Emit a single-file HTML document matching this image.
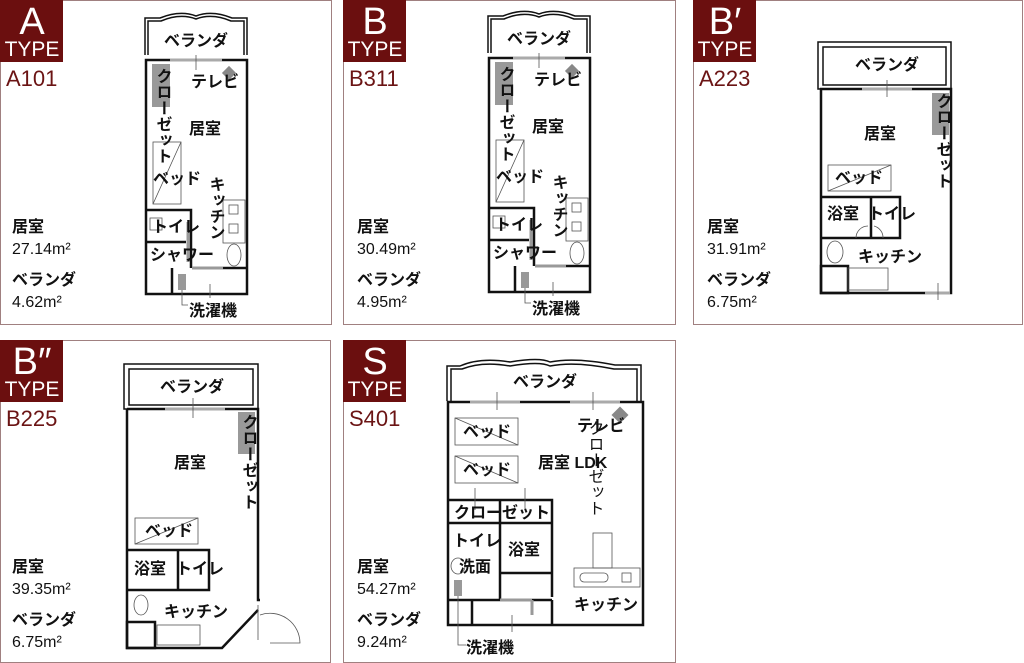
<!DOCTYPE html>
<html><head><meta charset="utf-8"><style>
body{margin:0;background:#fff;}
svg{display:block;font-family:"Liberation Sans","Noto Sans CJK JP",sans-serif;}
.t{font-size:16px;font-weight:bold;fill:#111;}
.a{font-size:16px;fill:#111;}
.code{font-size:22px;fill:#6b1414;}
.w{stroke:#111;stroke-width:2.5;fill:none;}
.th{stroke:#111;stroke-width:1.5;fill:none;}
.hl{stroke:#555;stroke-width:0.8;fill:none;}
</style></head><body>
<svg width="1024" height="663" viewBox="0 0 1024 663">
<g fill="none" stroke="#a08080" stroke-width="1">
<rect x="0.5" y="0.5" width="331" height="324"/>
<rect x="343.5" y="0.5" width="332" height="324"/>
<rect x="693.5" y="0.5" width="329" height="324"/>
<rect x="0.5" y="340.5" width="330" height="322"/>
<rect x="343.5" y="340.5" width="332" height="322"/>
</g>
<g fill="#6b0f0f">
<rect x="0" y="0" width="63" height="62"/><rect x="343" y="0" width="63" height="62"/><rect x="693" y="0" width="63" height="62"/>
<rect x="0" y="340" width="63" height="62"/><rect x="343" y="340" width="63" height="62"/>
</g>
<g fill="#fff" text-anchor="middle">
<text x="32" y="34" font-size="38">A</text><text x="32" y="56" font-size="21">TYPE</text>
<text x="375" y="34" font-size="38">B</text><text x="375" y="56" font-size="21">TYPE</text>
<text x="725" y="34" font-size="38">B′</text><text x="725" y="56" font-size="21">TYPE</text>
<text x="32" y="374" font-size="38">B″</text><text x="32" y="396" font-size="21">TYPE</text>
<text x="375" y="374" font-size="38">S</text><text x="375" y="396" font-size="21">TYPE</text>
</g>
<text class="code" x="6" y="86">A101</text>
<text class="code" x="349" y="86">B311</text>
<text class="code" x="699" y="86">A223</text>
<text class="code" x="6" y="426">B225</text>
<text class="code" x="349" y="426">S401</text>
<g class="a">
<text x="12" y="232" font-weight="bold">居室</text><text x="12" y="254">27.14m²</text><text x="12" y="285" font-weight="bold">ベランダ</text><text x="12" y="307">4.62m²</text>
<text x="357" y="232" font-weight="bold">居室</text><text x="357" y="254">30.49m²</text><text x="357" y="285" font-weight="bold">ベランダ</text><text x="357" y="307">4.95m²</text>
<text x="707" y="232" font-weight="bold">居室</text><text x="707" y="254">31.91m²</text><text x="707" y="285" font-weight="bold">ベランダ</text><text x="707" y="307">6.75m²</text>
<text x="12" y="572" font-weight="bold">居室</text><text x="12" y="594">39.35m²</text><text x="12" y="625" font-weight="bold">ベランダ</text><text x="12" y="647">6.75m²</text>
<text x="357" y="572" font-weight="bold">居室</text><text x="357" y="594">54.27m²</text><text x="357" y="625" font-weight="bold">ベランダ</text><text x="357" y="647">9.24m²</text>
</g>

<defs>
<g id="planA">
<path class="th" d="M145 55 V18 H160 Q180 10 196 16 Q212 10 232 18 H247 V55"/>
<path class="th" d="M148 55 V21 H161 Q180 13 196 19 Q212 13 231 21 H244 V55"/>
<rect class="w" x="146" y="60" width="101" height="234"/>
<line x1="170" y1="60" x2="222" y2="60" stroke="#aaa" stroke-width="3"/>
<line class="hl" x1="196" y1="55" x2="196" y2="70"/>
<rect x="152" y="64" width="18" height="43" fill="#999"/>
<rect x="224" y="68" width="10" height="10" fill="#888" transform="rotate(45 229 73)"/>
<rect class="hl" x="153" y="142" width="28" height="62"/><line class="hl" x1="153" y1="204" x2="181" y2="142"/>
<rect class="hl" x="223" y="200" width="22" height="43"/><rect class="hl" x="229" y="205" width="9" height="9"/><rect class="hl" x="229" y="224" width="9" height="9"/>
<ellipse class="hl" cx="234" cy="255" rx="7" ry="11"/>
<path class="w" d="M146 210 H191 V268 M146 242 H186"/>
<line x1="188" y1="222" x2="188" y2="262" stroke="#999" stroke-width="3"/>
<rect class="hl" x="150" y="218" width="12" height="12"/>
<line class="w" x1="172" y1="268" x2="172" y2="294"/>
<line x1="192" y1="268" x2="223" y2="268" stroke="#999" stroke-width="3"/><line class="w" x1="223" y1="268" x2="247" y2="268"/>
<rect x="178" y="274" width="8" height="16" fill="#999"/>
<path class="hl" d="M182 290 V305 H188"/><line class="hl" x1="210" y1="284" x2="210" y2="298"/>
<text class="t" x="196" y="46" text-anchor="middle">ベランダ</text>
<text class="t" x="191" y="87">テレビ</text>
<text class="t" x="189" y="134">居室</text>
<text class="t" x="153" y="184">ベッド</text>
<text class="t" x="162" y="68" style="writing-mode:vertical-rl">クローゼット</text>
<text class="t" x="215" y="176" style="writing-mode:vertical-rl">キッチン</text>
<text class="t" x="152" y="232">トイレ</text>
<text class="t" x="150" y="260">シャワー</text>
<text class="t" x="189" y="316">洗濯機</text>
</g>
</defs>
<use href="#planA"/>
<use href="#planA" transform="translate(343,-2)"/>

<g>
<rect class="th" x="818" y="42" width="133" height="47"/><rect class="th" x="823" y="47" width="123" height="38"/>
<rect class="w" x="821" y="89" width="130" height="204"/>
<line x1="862" y1="89" x2="912" y2="89" stroke="#aaa" stroke-width="3"/>
<line class="hl" x1="887" y1="80" x2="887" y2="97"/>
<rect x="932" y="93" width="17" height="42" fill="#999"/>
<rect class="hl" x="828" y="165" width="63" height="26"/><line class="hl" x1="828" y1="191" x2="891" y2="165"/>
<path class="w" d="M821 197 H900 V238 H821 M871 197 V238"/>
<ellipse class="hl" cx="835" cy="252" rx="8" ry="11"/>
<rect class="w" x="821" y="266" width="27" height="27"/>
<rect class="hl" x="848" y="268" width="40" height="22"/>
<line x1="925" y1="293" x2="950" y2="293" stroke="#aaa" stroke-width="3"/><line class="hl" x1="938" y1="283" x2="938" y2="300"/>
<path class="hl" d="M856 238 A12 12 0 0 1 868 226 M883 238 A12 12 0 0 0 874 226"/>
<text class="t" x="887" y="70" text-anchor="middle">ベランダ</text>
<text class="t" x="864" y="139">居室</text>
<text class="t" x="835" y="183">ベッド</text>
<text class="t" x="827" y="219">浴室</text>
<text class="t" x="868" y="219">トイレ</text>
<text class="t" x="858" y="262">キッチン</text>
<text class="t" x="942" y="93" style="writing-mode:vertical-rl">クローゼット</text>
</g>

<g>
<rect class="th" x="124" y="364" width="134" height="45"/><rect class="th" x="129" y="369" width="124" height="36"/>
<path class="w" d="M127 409 H258 V600 H260 M127 409 V648 H222 L258 610"/>
<path class="hl" d="M258 605 V640 M260 615 A30 30 0 0 1 300 643 H270"/>
<line x1="165" y1="409" x2="225" y2="409" stroke="#aaa" stroke-width="3"/><line class="hl" x1="193" y1="398" x2="193" y2="418"/>
<rect x="238" y="412" width="17" height="42" fill="#999"/>
<rect class="hl" x="135" y="518" width="63" height="26"/><line class="hl" x1="135" y1="544" x2="198" y2="518"/>
<path class="w" d="M127 550 H209 V590 H127 M178 550 V590"/>
<ellipse class="hl" cx="141" cy="605" rx="7" ry="10"/>
<rect class="w" x="127" y="622" width="28" height="26"/>
<rect class="hl" x="157" y="625" width="43" height="20"/>
<text class="t" x="192" y="392" text-anchor="middle">ベランダ</text>
<text class="t" x="174" y="468">居室</text>
<text class="t" x="145" y="536">ベッド</text>
<text class="t" x="134" y="574">浴室</text>
<text class="t" x="176" y="574">トイレ</text>
<text class="t" x="164" y="617">キッチン</text>
<text class="t" x="248" y="414" style="writing-mode:vertical-rl">クローゼット</text>
</g>

<g>
<path class="th" d="M447 401 V366 H460 Q480 357 510 362 Q540 357 550 362 Q575 357 615 365 H641 V401"/>
<path class="th" d="M451 401 V369 H462 Q482 361 510 366 Q540 361 550 366 Q575 361 614 369 H637 V401"/>
<rect class="w" x="448" y="402" width="195" height="223"/>
<line x1="470" y1="402" x2="520" y2="402" stroke="#aaa" stroke-width="3"/><line x1="570" y1="402" x2="620" y2="402" stroke="#aaa" stroke-width="3"/>
<line class="hl" x1="497" y1="392" x2="497" y2="410"/><line class="hl" x1="593" y1="392" x2="593" y2="410"/>
<rect class="hl" x="455" y="418" width="63" height="27"/><line class="hl" x1="455" y1="418" x2="518" y2="445"/>
<rect class="hl" x="455" y="456" width="63" height="27"/><line class="hl" x1="455" y1="456" x2="518" y2="483"/>
<rect x="614" y="409" width="12" height="12" fill="#888" transform="rotate(45 620 415)"/>
<path class="w" d="M448 500 H552 V597 M448 523 H552 M500 500 V600 M500 573 H552 M500 600 H552 M448 600 H500 M472 600 V625 M552 600 V625"/>
<line x1="500" y1="600" x2="532" y2="600" stroke="#999" stroke-width="3"/><line x1="532" y1="600" x2="532" y2="615" stroke="#999" stroke-width="3"/>
<line class="hl" x1="475" y1="488" x2="475" y2="510"/><line class="hl" x1="525" y1="488" x2="525" y2="510"/>
<rect class="hl" x="593" y="533" width="19" height="35"/>
<rect class="hl" x="574" y="568" width="66" height="19"/><rect class="hl" x="580" y="573" width="28" height="9" rx="4"/><rect class="hl" x="622" y="573" width="9" height="9"/>
<ellipse class="hl" cx="458" cy="566" rx="7" ry="8"/>
<rect x="454" y="580" width="8" height="16" fill="#999"/>
<path class="hl" d="M458 596 V645 H466"/><line class="hl" x1="512" y1="615" x2="512" y2="632"/>
<text class="t" x="545" y="387" text-anchor="middle">ベランダ</text>
<text class="a" x="594" y="420" fill="#666" style="writing-mode:vertical-rl" font-size="12">クローゼット</text>
<text class="t" x="577" y="431">テレビ</text>
<text class="t" x="538" y="468">居室 LDK</text>
<text class="t" x="463" y="437">ベッド</text>
<text class="t" x="463" y="475">ベッド</text>
<text class="t" x="454" y="518">クロー</text>
<text class="t" x="502" y="518">ゼット</text>
<text class="t" x="453" y="546">トイレ</text>
<text class="t" x="508" y="555">浴室</text>
<text class="t" x="459" y="572">洗面</text>
<text class="t" x="574" y="610">キッチン</text>
<text class="t" x="466" y="653">洗濯機</text>
</g>
</svg>
</body></html>
